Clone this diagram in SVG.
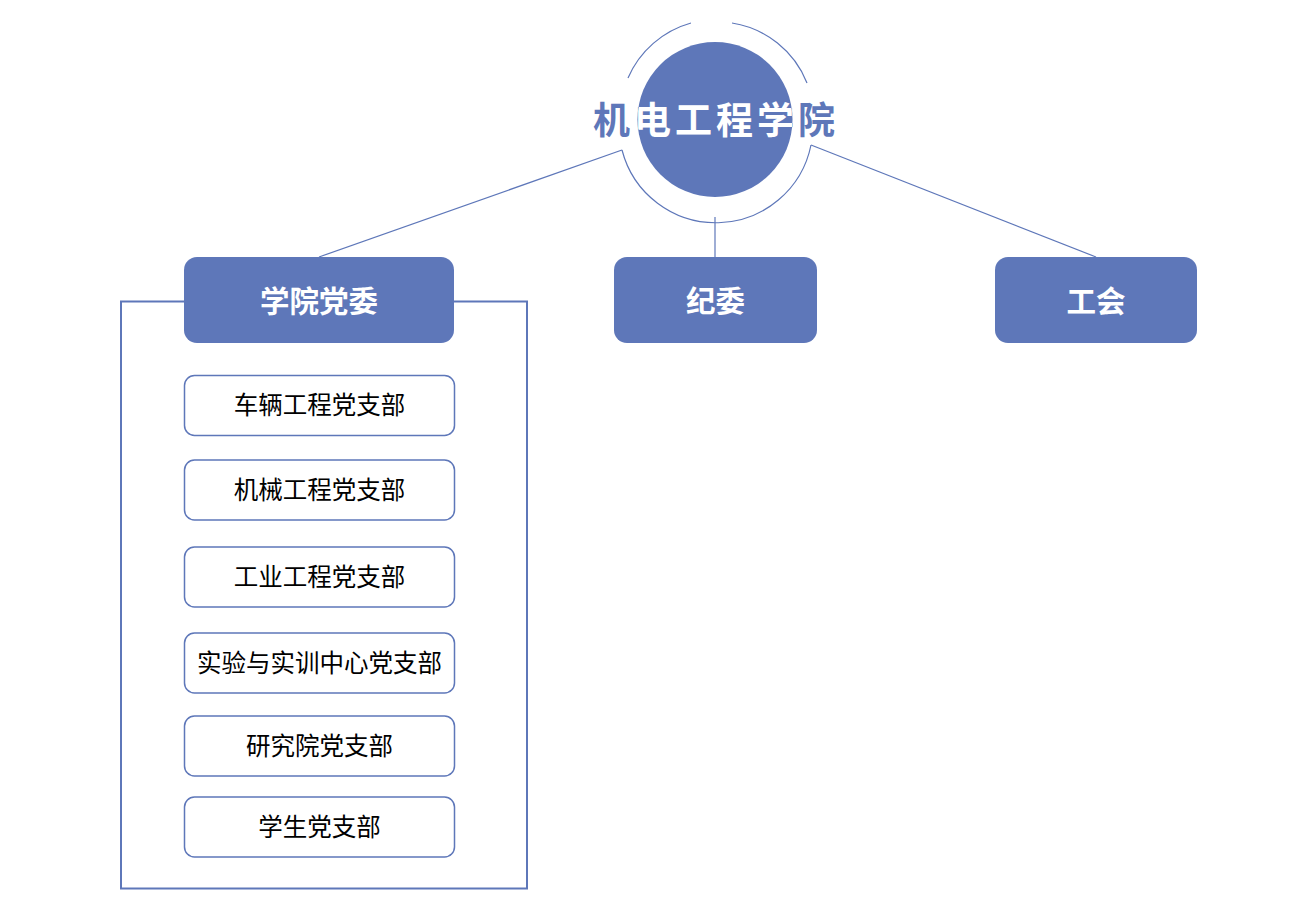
<svg xmlns="http://www.w3.org/2000/svg" width="1312" height="900" viewBox="0 0 1312 900">
<style>
.ln{stroke:#5e77b9;stroke-width:1.2;fill:none}
.hd{fill:#5e77b9}
.hdt{font-family:"Noto Sans CJK SC","Noto Sans",sans-serif;font-weight:bold;font-size:29.5px;fill:#fff;text-anchor:middle;dominant-baseline:central}
.sb{fill:#fff;stroke:#5e77b9;stroke-width:1.5}
.sbt{font-family:"Noto Sans CJK SC","Noto Sans",sans-serif;font-size:24.5px;fill:#000;text-anchor:middle;dominant-baseline:central}
.tt{font-family:"Noto Sans CJK SC","Noto Sans",sans-serif;font-weight:bold;font-size:37px;letter-spacing:4px;text-anchor:middle}
</style>
<defs>
<clipPath id="cc"><circle cx="715" cy="119.5" r="77.5"/></clipPath>
</defs>
<rect width="1312" height="900" fill="#fff"/>
<g id="connectors">
<line class="ln" x1="622" y1="150" x2="319" y2="257"/>
<line class="ln" x1="811" y1="145" x2="1096" y2="257"/>
<line class="ln" x1="715" y1="217" x2="715" y2="257"/>
<rect x="121" y="301.5" width="406" height="587" fill="none" stroke="#5e77b9" stroke-width="2"/>
</g>
<g id="root">
<path class="ln" d="M628 78 A97 97 0 0 1 691 23"/>
<path class="ln" d="M732 23 A97 97 0 0 1 807 83"/>
<path class="ln" d="M811 145 A97 97 0 0 1 622 150"/>
<circle cx="715" cy="119.5" r="77.5" fill="#5e77b9"/>
<text class="tt" x="716" y="134" fill="#5e77b9">机电工程学院</text>
<text class="tt" x="716" y="134" fill="#fff" clip-path="url(#cc)">机电工程学院</text>
</g>
<g id="dangwei">
<rect class="hd" x="184" y="257" width="270" height="86" rx="13"/>
<text class="hdt" x="319" y="298.5">学院党委</text>
</g>
<g id="jiwei">
<rect class="hd" x="614" y="257" width="203" height="86" rx="13"/>
<text class="hdt" x="715.5" y="298.5">纪委</text>
</g>
<g id="gonghui">
<rect class="hd" x="995" y="257" width="202" height="86" rx="13"/>
<text class="hdt" x="1096" y="298.5">工会</text>
</g>
<g id="b1"><rect class="sb" x="184.5" y="375.5" width="270" height="60" rx="10"/><text class="sbt" x="319.5" y="403.5">车辆工程党支部</text></g>
<g id="b2"><rect class="sb" x="184.5" y="460" width="270" height="60" rx="10"/><text class="sbt" x="319.5" y="488">机械工程党支部</text></g>
<g id="b3"><rect class="sb" x="184.5" y="547" width="270" height="60" rx="10"/><text class="sbt" x="319.5" y="575">工业工程党支部</text></g>
<g id="b4"><rect class="sb" x="184.5" y="633" width="270" height="60" rx="10"/><text class="sbt" x="319.5" y="661">实验与实训中心党支部</text></g>
<g id="b5"><rect class="sb" x="184.5" y="716" width="270" height="60" rx="10"/><text class="sbt" x="319.5" y="744">研究院党支部</text></g>
<g id="b6"><rect class="sb" x="184.5" y="797" width="270" height="60" rx="10"/><text class="sbt" x="319.5" y="825">学生党支部</text></g>
</svg>
